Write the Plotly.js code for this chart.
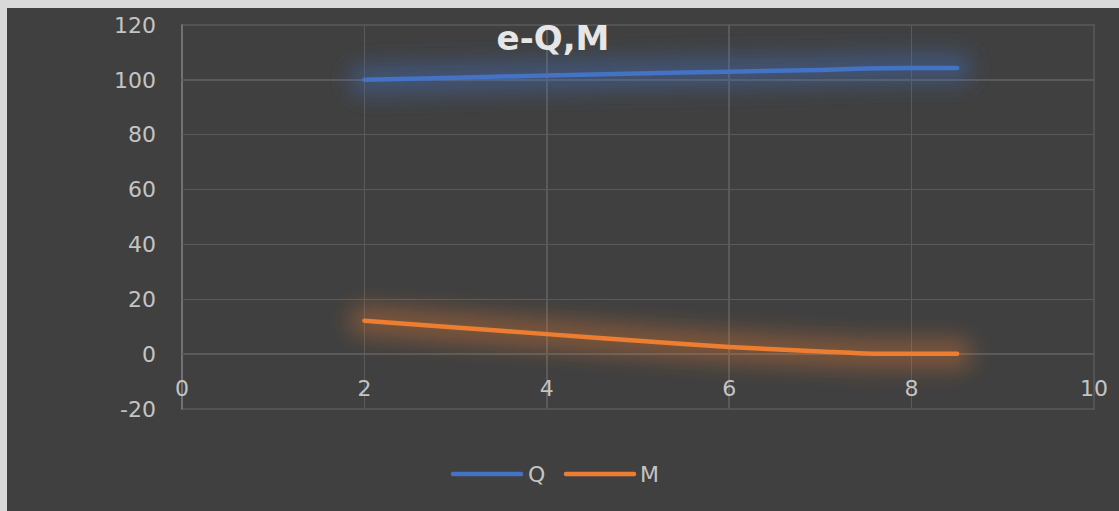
<!DOCTYPE html>
<html>
<head>
<meta charset="utf-8">
<script src="https://cdn.plot.ly/plotly-3.0.1.min.js"></script>
<style>
  html, body { margin: 0; padding: 0; background: #d9d9d9; overflow: hidden; }
  #chart { position: absolute; left: 7px; top: 8px; width: 1112px; height: 503px; }
</style>
</head>
<body>
<div id="chart"></div>
<script>
// Eccentricity e against shear Q and moment M
const eValues = [2, 3, 4, 5, 6, 7, 7.5, 8, 8.5];
const qValues = [100, 100.8, 101.6, 102.3, 103.0, 103.6, 104.1, 104.3, 104.3];
const mValues = [12.2, 9.7, 7.3, 4.9, 2.6, 1.0, 0.2, 0.1, 0.1];
const seriesNames = ['Q', 'M'];
const seriesColors = ['#4472C4', '#ED7D31'];
const glowColors = ['rgba(68,114,196,0.42)', 'rgba(237,125,49,0.36)'];
const chartTitle = 'e-Q,M';
const xTicks = [0, 2, 4, 6, 8, 10];
const yTicks = [-20, 0, 20, 40, 60, 80, 100, 120];

const W = 1112, H = 503;
const M = { l: 175, r: 25, t: 17, b: 102 };
const plotW = W - M.l - M.r, plotH = H - M.t - M.b;
const px2fx = px => (px - M.l) / plotW;
const py2fy = py => 1 - (py - M.t) / plotH;

const gridColor = '#5a5a5a';
const tickFont = { family: 'DejaVu Sans', size: 22, color: '#c4c4c4' };
const series = [qValues, mValues];

const traces = [];
// soft glow underneath each line
series.forEach((ys, i) => traces.push({
  x: eValues, y: ys, type: 'scatter', mode: 'lines',
  line: { color: glowColors[i], width: 30, shape: 'spline', smoothing: 0.6 },
  hoverinfo: 'skip', showlegend: false
}));
series.forEach((ys, i) => traces.push({
  x: eValues, y: ys, type: 'scatter', mode: 'lines', name: seriesNames[i],
  line: { color: seriesColors[i], width: 4.5, shape: 'spline', smoothing: 0.6 },
  showlegend: false
}));

// frame of the plot area and the vertical axis line
const shapes = [
  { type: 'rect', xref: 'paper', yref: 'paper', x0: 0, x1: 1, y0: 0, y1: 1,
    line: { color: gridColor, width: 1.5 }, layer: 'below' },
  { type: 'line', xref: 'paper', yref: 'paper', x0: 0, x1: 0, y0: 0, y1: 1,
    line: { color: '#7c7c7c', width: 1.5 }, layer: 'below' }
];

// legend drawn below the plot: long line swatch followed by the name
const legendY = py2fy(466);
const legendItems = [
  { x0: 446, x1: 514, tx: 519 },
  { x0: 559, x1: 627, tx: 631 }
];
legendItems.forEach((it, i) => shapes.push({
  type: 'line', xref: 'paper', yref: 'paper',
  x0: px2fx(it.x0), x1: px2fx(it.x1), y0: legendY, y1: legendY,
  line: { color: seriesColors[i], width: 4.5 }
}));
const annotations = legendItems.map((it, i) => ({
  xref: 'paper', yref: 'paper', x: px2fx(it.tx), y: legendY,
  xanchor: 'left', yanchor: 'middle', showarrow: false,
  text: seriesNames[i], font: { family: 'DejaVu Sans', size: 22, color: '#c4c4c4' }
}));

const layout = {
  width: W, height: H,
  margin: { l: M.l, r: M.r, t: M.t, b: M.b, pad: 0 },
  paper_bgcolor: '#404040', plot_bgcolor: '#404040',
  title: {
    text: '<b>' + chartTitle + '</b>',
    font: { family: 'DejaVu Sans', size: 34, color: '#e6e6e6' },
    x: 546 / W, xanchor: 'center', xref: 'container',
    y: 1 - 30 / H, yanchor: 'middle', yref: 'container'
  },
  xaxis: {
    range: [0, 10], tickvals: xTicks, ticktext: xTicks.map(String),
    showgrid: true, gridcolor: gridColor, gridwidth: 1.5,
    zeroline: false, showline: false, ticks: '',
    anchor: 'free', position: (0 - (-20)) / 140,
    ticklabelstandoff: 19, tickfont: tickFont, fixedrange: true
  },
  yaxis: {
    range: [-20, 120], tickvals: yTicks, ticktext: yTicks.map(String),
    showgrid: true, gridcolor: gridColor, gridwidth: 1.5,
    zeroline: false, showline: false, ticks: '',
    ticklabelstandoff: 25, tickfont: tickFont, fixedrange: true
  },
  shapes: shapes,
  annotations: annotations,
  showlegend: false
};

Plotly.newPlot('chart', traces, layout, { displayModeBar: false, staticPlot: true }).then(gd => {
  const svg = gd.querySelector('svg.main-svg');
  const ns = 'http://www.w3.org/2000/svg';
  let defs = svg.querySelector('defs');
  if (!defs) { defs = document.createElementNS(ns, 'defs'); svg.insertBefore(defs, svg.firstChild); }
  const filter = document.createElementNS(ns, 'filter');
  filter.setAttribute('id', 'lineGlow');
  filter.setAttribute('filterUnits', 'userSpaceOnUse');
  filter.setAttribute('x', '-300'); filter.setAttribute('y', '-300');
  filter.setAttribute('width', '1800'); filter.setAttribute('height', '1200');
  const blur = document.createElementNS(ns, 'feGaussianBlur');
  blur.setAttribute('stdDeviation', '11');
  filter.appendChild(blur);
  defs.appendChild(filter);
  const lines = gd.querySelectorAll('.scatterlayer .trace path.js-line');
  lines.forEach((p, i) => {
    p.style.strokeLinecap = 'round';
    if (i < 2) p.setAttribute('filter', 'url(#lineGlow)');
  });
  gd.querySelectorAll('.shapelayer path').forEach(p => {
    p.style.strokeLinecap = 'round';
  });
});
</script>
</body>
</html>
